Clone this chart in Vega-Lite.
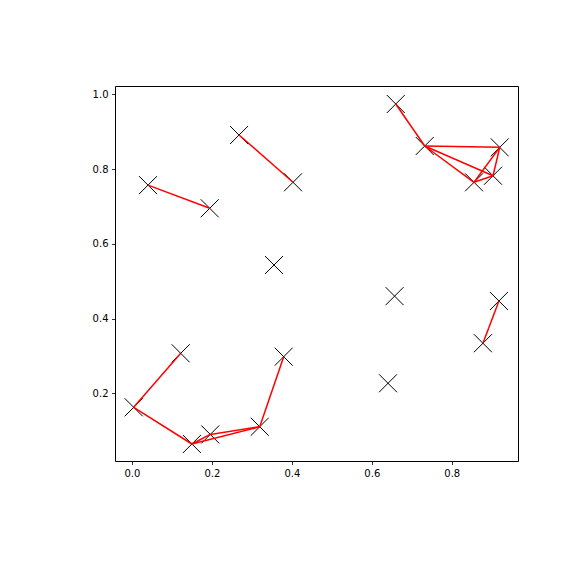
{
  "$schema": "https://vega.github.io/schema/vega-lite/v6.json",
  "autosize": "none",
  "width": 403,
  "height": 375,
  "padding": {"left": 115, "top": 86, "right": 58, "bottom": 115},
  "background": "white",
  "config": {
    "view": {"stroke": "black", "strokeWidth": 1},
    "axis": {
      "domain": false,
      "grid": false,
      "ticks": true,
      "tickColor": "black",
      "tickSize": 3.5,
      "tickWidth": 0.8,
      "labelFont": "DejaVu Sans",
      "labelFontSize": 10,
      "labelColor": "black",
      "labelPadding": 3.5,
      "title": null
    }
  },
  "datasets": {
    "points": [
      {"x": 0.0403, "y": 0.757},
      {"x": 0.1946, "y": 0.695},
      {"x": 0.268, "y": 0.891},
      {"x": 0.403, "y": 0.7646},
      {"x": 0.3554, "y": 0.5433},
      {"x": 0.660, "y": 0.974},
      {"x": 0.7324, "y": 0.8617},
      {"x": 0.920, "y": 0.858},
      {"x": 0.8557, "y": 0.7646},
      {"x": 0.9032, "y": 0.782},
      {"x": 0.122, "y": 0.307},
      {"x": 0.0045, "y": 0.1625},
      {"x": 0.150, "y": 0.0644},
      {"x": 0.196, "y": 0.090},
      {"x": 0.3197, "y": 0.1106},
      {"x": 0.3797, "y": 0.298},
      {"x": 0.657, "y": 0.460},
      {"x": 0.918, "y": 0.447},
      {"x": 0.878, "y": 0.334},
      {"x": 0.6406, "y": 0.2268}
    ],
    "edges": [
      {"x1": 0.0403, "y1": 0.757, "x2": 0.1946, "y2": 0.695},
      {"x1": 0.268, "y1": 0.891, "x2": 0.403, "y2": 0.7646},
      {"x1": 0.660, "y1": 0.974, "x2": 0.7324, "y2": 0.8617},
      {"x1": 0.7324, "y1": 0.8617, "x2": 0.920, "y2": 0.858},
      {"x1": 0.7324, "y1": 0.8617, "x2": 0.8557, "y2": 0.7646},
      {"x1": 0.7324, "y1": 0.8617, "x2": 0.9032, "y2": 0.782},
      {"x1": 0.920, "y1": 0.858, "x2": 0.8557, "y2": 0.7646},
      {"x1": 0.920, "y1": 0.858, "x2": 0.9032, "y2": 0.782},
      {"x1": 0.8557, "y1": 0.7646, "x2": 0.9032, "y2": 0.782},
      {"x1": 0.122, "y1": 0.307, "x2": 0.0045, "y2": 0.1625},
      {"x1": 0.0045, "y1": 0.1625, "x2": 0.150, "y2": 0.0644},
      {"x1": 0.150, "y1": 0.0644, "x2": 0.196, "y2": 0.090},
      {"x1": 0.150, "y1": 0.0644, "x2": 0.3197, "y2": 0.1106},
      {"x1": 0.196, "y1": 0.090, "x2": 0.3197, "y2": 0.1106},
      {"x1": 0.3197, "y1": 0.1106, "x2": 0.3797, "y2": 0.298},
      {"x1": 0.918, "y1": 0.447, "x2": 0.878, "y2": 0.334}
    ]
  },
  "layer": [
    {
      "data": {"name": "points"},
      "mark": {
        "type": "point",
        "shape": "M-1,-1L1,1M-1,1L1,-1",
        "filled": false,
        "stroke": "black",
        "strokeWidth": 1,
        "size": 324,
        "opacity": 1
      },
      "encoding": {
        "x": {
          "field": "x", "type": "quantitative",
          "scale": {"domain": [-0.0423, 0.9657], "nice": false, "zero": false},
          "axis": {"values": [0, 0.2, 0.4, 0.6, 0.8], "format": ".1f"}
        },
        "y": {
          "field": "y", "type": "quantitative",
          "scale": {"domain": [0.0189, 1.0222], "nice": false, "zero": false},
          "axis": {"values": [0.2, 0.4, 0.6, 0.8, 1.0], "format": ".1f"}
        }
      }
    },
    {
      "data": {"name": "edges"},
      "mark": {"type": "rule", "color": "red", "strokeWidth": 1.5},
      "encoding": {
        "x": {"field": "x1", "type": "quantitative"},
        "y": {"field": "y1", "type": "quantitative"},
        "x2": {"field": "x2"},
        "y2": {"field": "y2"}
      }
    }
  ]
}
